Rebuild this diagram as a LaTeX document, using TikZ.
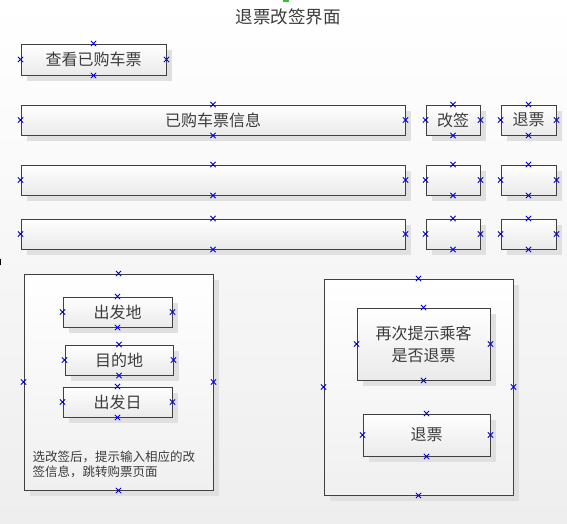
\documentclass[tikz,border=0pt]{standalone}
\usepackage{fontspec}
\newfontfamily\cjk{Noto Sans CJK SC}
\usetikzlibrary{shadows,shapes.misc}
\definecolor{txt}{RGB}{60,60,60}
\definecolor{edge}{RGB}{64,64,64}
\definecolor{shd}{RGB}{224,224,224}
\definecolor{boxbot}{RGB}{234,234,234}
\definecolor{bgbot}{RGB}{238,238,238}
\definecolor{pbot}{RGB}{240,240,240}
\definecolor{mk}{RGB}{0,0,220}
\definecolor{grn}{RGB}{40,200,40}
\tikzset{
  box/.style={draw=edge, line width=0.9pt, top color=white, bottom color=boxbot,
    drop shadow={shadow xshift=6pt, shadow yshift=-6pt, fill=shd, opacity=1},
    inner sep=0pt, text=txt, font=\cjk\fontsize{16}{22}\selectfont, align=center},
  panel/.style={box, top color=white, bottom color=pbot},
  xmark/.style={cross out, draw=mk, minimum size=4.5pt, inner sep=0pt, line width=0.8pt},
  plain/.style={text=txt, inner sep=0pt},
}
\newcommand\xmarks[1]{\foreach \a in {north,south,east,west} {\node[xmark] at (#1.\a) {};}}
\begin{document}
\begin{tikzpicture}[x=1pt,y=-1pt]
\useasboundingbox (0,0) rectangle (567,524);
\fill[top color=white, bottom color=bgbot] (0,0) rectangle (567,524);
\fill[grn] (283,0) rectangle (289,2.5);
\draw[black, line width=1pt] (0.5,259) -- (0.5,265);

\node[plain, font=\cjk\fontsize{17.5}{20}\selectfont] (title) at (288,17) {退票改签界面};

\node[box, minimum width=145, minimum height=31] (view) at (93.5,59.5) {查看已购车票};

\node[box, minimum width=384, minimum height=30] (info) at (213,120) {已购车票信息};
\node[box, minimum width=54, minimum height=30] (gq1) at (453,120) {改签};
\node[box, minimum width=55, minimum height=30] (tp1) at (528.5,120) {退票};

\node[box, minimum width=384, minimum height=30] (r2) at (213,180) {};
\node[box, minimum width=54, minimum height=30] (gq2) at (453,180) {};
\node[box, minimum width=55, minimum height=30] (tp2) at (528.5,180) {};

\node[box, minimum width=384, minimum height=30] (r3) at (213,234) {};
\node[box, minimum width=54, minimum height=30] (gq3) at (453,234) {};
\node[box, minimum width=55, minimum height=30] (tp3) at (528.5,234) {};

\node[panel, minimum width=189, minimum height=216] (lp) at (118.5,382) {};
\node[box, minimum width=109, minimum height=30] (dep) at (117.5,312) {出发地};
\node[box, minimum width=108, minimum height=30] (dst) at (119,360) {目的地};
\node[box, minimum width=109, minimum height=30] (day) at (117.5,402) {出发日};
\node[plain, anchor=west, align=left, font=\cjk\fontsize{12.5}{15}\selectfont] (note) at (32.5,464.5)
  {选改签后，提示输入相应的改\\签信息，跳转购票页面};

\node[panel, minimum width=189, minimum height=216] (rp) at (418.5,387) {};
\node[box, minimum width=133, minimum height=72] (ask) at (423.5,344) {再次提示乘客\\是否退票};
\node[box, minimum width=127, minimum height=42] (tp4) at (426.5,435) {退票};

\xmarks{view}
\xmarks{info}\xmarks{gq1}\xmarks{tp1}
\xmarks{r2}\xmarks{gq2}\xmarks{tp2}
\xmarks{r3}\xmarks{gq3}\xmarks{tp3}
\xmarks{lp}\xmarks{dep}\xmarks{dst}\xmarks{day}
\xmarks{rp}\xmarks{ask}\xmarks{tp4}
\end{tikzpicture}
\end{document}
